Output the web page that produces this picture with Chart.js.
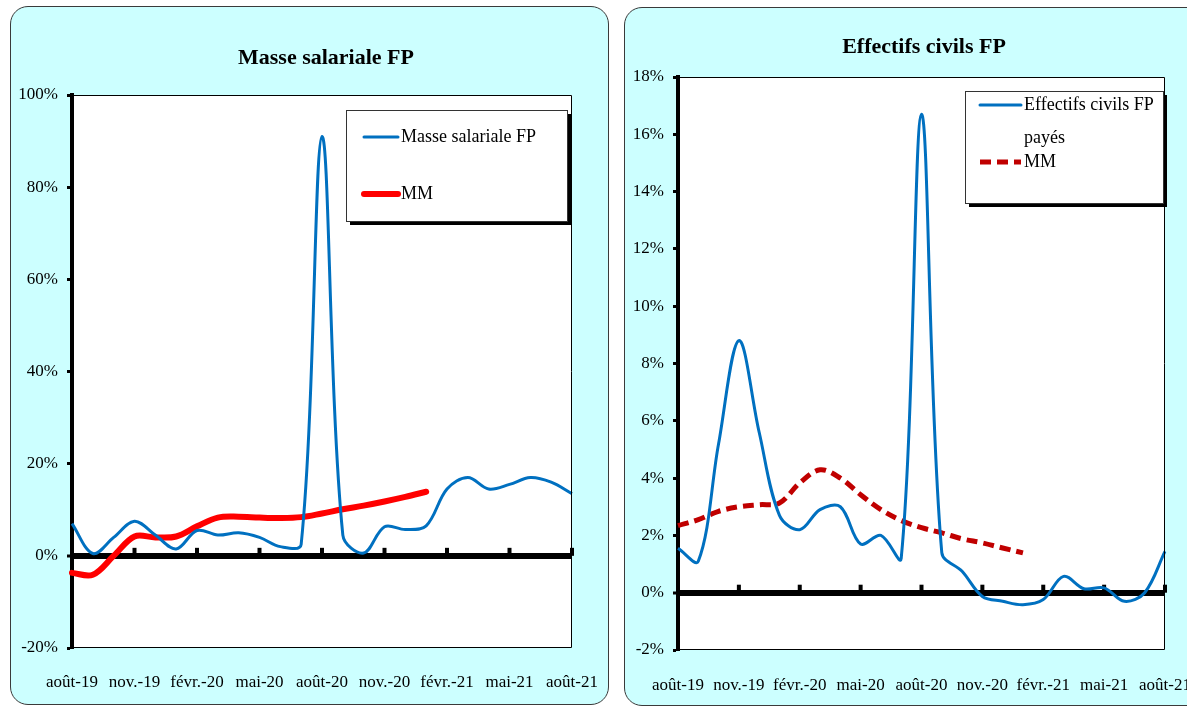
<!DOCTYPE html>
<html>
<head>
<meta charset="utf-8">
<script src="https://cdn.jsdelivr.net/npm/chart.js@4.4.1/dist/chart.umd.min.js"></script>
<style>
  html, body { margin: 0; padding: 0; background: #fff; width: 1187px; height: 706px; overflow: hidden; }
  .panel { position: absolute; background: #ccffff; border: 1px solid #3a3a3a; border-radius: 18px; box-sizing: border-box; }
  #p1 { left: 10px; top: 6px; width: 599px; height: 699px; }
  #p2 { left: 624px; top: 7px; width: 600px; height: 699px; }
  canvas { position: absolute; }
  #c1 { left: 10px; top: 6px; }
  #c2 { left: 624px; top: 7px; }
</style>
</head>
<body>
<div class="panel" id="p1"></div>
<div class="panel" id="p2"></div>
<canvas id="c1" width="598" height="698"></canvas>
<canvas id="c2" width="600" height="697"></canvas>
<script>
// monthly categories, août-19 .. août-21
const months = ['août-19', 'sept.-19', 'oct.-19', 'nov.-19', 'déc.-19', 'janv.-20', 'févr.-20',
    'mars-20', 'avr.-20', 'mai-20', 'juin-20', 'juil.-20', 'août-20', 'sept.-20', 'oct.-20',
    'nov.-20', 'déc.-20', 'janv.-21', 'févr.-21', 'mars-21', 'avr.-21', 'mai-21', 'juin-21',
    'juil.-21', 'août-21'];

// left chart (%)
const masseSalariale = [7, 0.5, 4, 7.5, 4.5, 1.5, 5.5, 4.5, 5, 4, 2, 2.5, 91, 4.5, 0.6,
    6.3, 5.7, 6.5, 14.5, 17, 14.5, 15.5, 17, 16, 13.5];
const masseMM = [-3.7, -4.1, 0, 4.2, 4.0, 4.2, 6.4, 8.3, 8.5, 8.3, 8.2, 8.4, 9.2, 10.1, 10.9,
    11.8, 12.8, 13.9, null, null, null, null, null, null, null];

// right chart (%)
const effectifs = [1.55, 1.1, 5.2, 8.8, 5.6, 2.7, 2.2, 2.9, 3.0, 1.7, 2.0, 1.2, 16.7, 1.4, 0.75,
    -0.13, -0.3, -0.42, -0.24, 0.57, 0.14, 0.17, -0.3, 0.0, 1.44];
const effectifsMM = [2.34, 2.55, 2.84, 3.0, 3.07, 3.13, 3.83, 4.29, 4.0, 3.42, 2.9, 2.52, 2.27,
    2.09, 1.88, 1.74, 1.56, 1.39, null, null, null, null, null, null, null];

const leftTicks = { min: -20, max: 100, step: 20 };
const rightTicks = { min: -2, max: 18, step: 2 };

const FONT = "'Liberation Serif', 'Times New Roman', serif";
Chart.defaults.font.family = FONT;
Chart.defaults.color = '#000';

// white plot area, zero-line tick marks, frame, title and boxed legend
const decor = {
    id: 'decor',
    beforeDraw(chart) {
        const { ctx, chartArea: a } = chart;
        ctx.save();
        ctx.fillStyle = '#fff';
        ctx.fillRect(a.left, a.top, a.right - a.left, a.bottom - a.top);
        ctx.restore();
    },
    beforeDatasetsDraw(chart) {
        const { ctx, scales: { x, y } } = chart;
        const y0 = y.getPixelForValue(0);
        ctx.save();
        ctx.fillStyle = '#000';
        months.forEach((m, i) => {
            if (i > 0 && i % 3 === 0) {
                const px = x.getPixelForValue(i);
                ctx.fillRect(px - 2, y0 - 8, 4, 8);
            }
        });
        ctx.restore();
    },
    afterDraw(chart, args, opts) {
        const { ctx, chartArea: a } = chart;
        ctx.save();
        // thin frame top / right / bottom
        ctx.strokeStyle = '#000';
        ctx.lineWidth = 1;
        ctx.beginPath();
        ctx.moveTo(a.left, a.top + 0.5);
        ctx.lineTo(a.right - 0.5, a.top + 0.5);
        ctx.lineTo(a.right - 0.5, a.bottom - 0.5);
        ctx.lineTo(a.left, a.bottom - 0.5);
        ctx.stroke();

        // title
        ctx.fillStyle = '#000';
        ctx.font = 'bold 22px ' + FONT;
        ctx.textAlign = 'center';
        ctx.textBaseline = 'middle';
        ctx.fillText(opts.title, opts.titleX, opts.titleY);

        // legend box with shadow
        const b = opts.box;
        ctx.fillStyle = '#000';
        ctx.fillRect(b.x + 4, b.y + 4, b.w, b.h);
        ctx.fillStyle = '#fff';
        ctx.fillRect(b.x, b.y, b.w, b.h);
        ctx.strokeStyle = '#333';
        ctx.strokeRect(b.x + 0.5, b.y + 0.5, b.w, b.h);

        ctx.font = '18px ' + FONT;
        ctx.textAlign = 'left';
        opts.entries.forEach((e, i) => {
            const ds = chart.data.datasets[i];
            ctx.save();
            ctx.strokeStyle = ds.borderColor;
            ctx.lineWidth = ds.borderWidth;
            ctx.lineCap = ds.borderDash ? 'butt' : 'round';
            ctx.setLineDash(ds.borderDash || []);
            ctx.beginPath();
            ctx.moveTo(e.x1, e.y);
            ctx.lineTo(e.x2, e.y);
            ctx.stroke();
            ctx.restore();
            ctx.fillStyle = '#000';
            e.lines.forEach((t, j) => ctx.fillText(t, e.x2 + 3, e.y + j * 33));
        });
        ctx.restore();
    }
};

function makeChart(id, series, mm, mmStyle, ticks, layout, decorOpts) {
    return new Chart(document.getElementById(id), {
        type: 'line',
        data: {
            labels: months,
            datasets: [
                {
                    label: series.label,
                    data: series.data,
                    borderColor: '#0070c0',
                    borderWidth: 3,
                    pointRadius: 0,
                    tension: 0.35,
                    fill: false
                },
                Object.assign({
                    label: 'MM',
                    data: mm,
                    pointRadius: 0,
                    tension: 0.35,
                    fill: false,
                    spanGaps: false
                }, mmStyle)
            ]
        },
        options: {
            responsive: false,
            animation: false,
            devicePixelRatio: 1,
            layout: { padding: layout.padding },
            plugins: {
                legend: { display: false },
                tooltip: { enabled: false },
                decor: decorOpts
            },
            scales: {
                x: {
                    offset: false,
                    grid: { display: false },
                    border: { display: false },
                    afterFit: s => {
                        s.height = layout.xHeight;
                        s.paddingLeft = 0;
                        s.paddingRight = 0;
                    },
                    ticks: {
                        autoSkip: false,
                        maxRotation: 0,
                        minRotation: 0,
                        padding: layout.xPad,
                        font: { size: 17 },
                        callback: function (v, i) {
                            return i % 3 === 0 ? this.getLabelForValue(v) : '';
                        }
                    }
                },
                y: {
                    min: ticks.min,
                    max: ticks.max,
                    afterFit: s => { s.width = layout.yWidth; },
                    border: { color: '#000', width: 4 },
                    grid: {
                        color: c => c.tick && c.tick.value === 0 ? '#000' : 'rgba(0,0,0,0)',
                        lineWidth: c => c.tick && c.tick.value === 0 ? 6 : 1,
                        tickColor: '#000',
                        tickLength: 5,
                        tickWidth: 3
                    },
                    ticks: {
                        stepSize: ticks.step,
                        padding: 9,
                        font: { size: 17 },
                        callback: v => v + '%'
                    }
                }
            }
        },
        plugins: [decor]
    });
}

makeChart('c1',
    { label: 'Masse salariale FP', data: masseSalariale },
    masseMM,
    { borderColor: '#ff0000', borderWidth: 6, borderCapStyle: 'round' },
    leftTicks,
    { padding: { left: 0, top: 89, right: 36, bottom: 6 }, xHeight: 50, xPad: 16, yWidth: 62 },
    {
        title: 'Masse salariale FP', titleX: 316, titleY: 52,
        box: { x: 336, y: 104, w: 221, h: 111 },
        entries: [
            { x1: 354, x2: 388, y: 131, lines: ['Masse salariale FP'] },
            { x1: 354, x2: 388, y: 188, lines: ['MM'] }
        ]
    });

makeChart('c2',
    { label: 'Effectifs civils FP payés', data: effectifs },
    effectifsMM,
    { borderColor: '#c00000', borderWidth: 5, borderDash: [11, 6] },
    rightTicks,
    { padding: { left: 0, top: 70, right: 59, bottom: 6 }, xHeight: 48, xPad: 17, yWidth: 54 },
    {
        title: 'Effectifs civils FP', titleX: 300, titleY: 40,
        box: { x: 341, y: 84, w: 198, h: 112 },
        entries: [
            { x1: 356, x2: 397, y: 98, lines: ['Effectifs civils FP', 'payés'] },
            { x1: 356, x2: 397, y: 155, lines: ['MM'] }
        ]
    });
</script>
</body>
</html>
